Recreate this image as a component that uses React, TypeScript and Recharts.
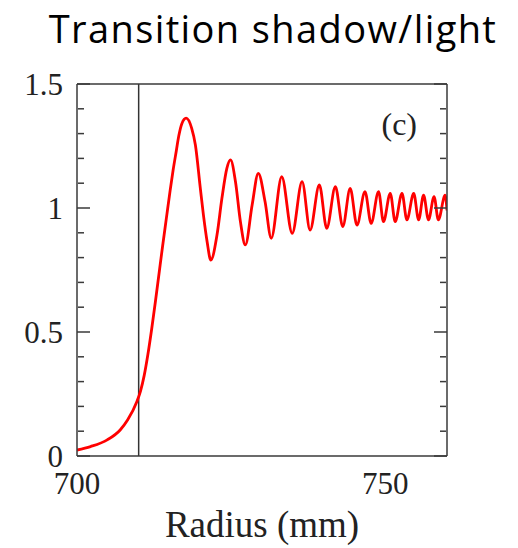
import React from 'react';
import { LineChart, Line, XAxis, YAxis, ReferenceLine } from 'recharts';

const radius = [
  700.0, 702.2, 704.9, 707.0, 708.2, 709.7, 710.3, 710.9, 711.5, 712.1, 712.7, 713.3, 713.9, 714.5, 715.1, 715.6,
  716.1, 716.5, 717.0, 717.7, 718.6, 719.2, 720.0, 720.5, 721.1, 721.7, 722.7, 723.5, 724.3, 724.9, 725.7, 726.5,
  727.3, 728.4, 729.4, 730.5, 731.5, 733.2, 734.9, 736.5, 737.8, 739.3, 740.5, 741.9, 743.1, 744.3, 745.4, 746.7,
  747.7, 748.9, 749.7, 750.8, 751.6, 752.7, 753.5, 754.6, 755.4, 756.2, 757.0, 757.9, 758.6, 759.7, 760.0,
];
const intensity = [
  0.024, 0.038, 0.065, 0.105, 0.145, 0.219, 0.262, 0.325, 0.41, 0.51, 0.62, 0.735, 0.85, 0.96, 1.07, 1.155,
  1.23, 1.29, 1.34, 1.362, 1.321, 1.254, 1.079, 0.972, 0.864, 0.79, 0.891, 1.039, 1.16, 1.194, 1.106, 0.945,
  0.851, 1.012, 1.14, 1.025, 0.878, 1.126, 0.898, 1.106, 0.911, 1.093, 0.918, 1.086, 0.925, 1.079, 0.931, 1.066,
  0.938, 1.066, 0.945, 1.059, 0.945, 1.059, 0.952, 1.059, 0.952, 1.052, 0.952, 1.046, 0.952, 1.052, 0.99,
];
const xMajorTicks = [700, 750];
const xMinorTicks = [710, 720, 730, 740];
const yMajorTicks = [0, 0.5, 1, 1.5];
const yMinorTicks = [0.1, 0.2, 0.3, 0.4, 0.6, 0.7, 0.8, 0.9, 1.1, 1.2, 1.3, 1.4];
const markerRadius = 710;
const title = 'Transition shadow/light';
const xLabel = 'Radius (mm)';
const panelLabel = '(c)';

const data = radius.map((r, i) => ({ r, v: intensity[i] }));

const XD: [number, number] = [700, 760];
const YD: [number, number] = [0, 1.5];
const AX = '#3a3a3a';
const serif = '"Liberation Serif", "Times New Roman", serif';
const lineStyle = { stroke: AX, strokeWidth: 1.5 };
const tickFont = { fontFamily: serif, fontSize: 31, fill: '#222' };
const blank = () => '';
const noText = { fontSize: 1, fill: 'none' };

export default function App() {
  return (
    <div style={{ position: 'relative', width: 510, height: 540 }}>
      <LineChart width={510} height={540} data={data} margin={{ top: 76, right: 71, bottom: 0, left: 0 }}>
        <XAxis
          xAxisId="x"
          dataKey="r"
          type="number"
          domain={XD}
          allowDataOverflow
          ticks={xMajorTicks}
          tickLine={false}
          axisLine={false}
          height={92}
          tickMargin={10}
          tick={tickFont}
          label={{ value: xLabel, position: 'insideBottom', offset: 11, style: { fontFamily: serif, fontSize: 37, fill: '#222' } }}
        />
        <XAxis xAxisId="xbM" type="number" domain={XD} allowDataOverflow orientation="bottom" mirror height={1} ticks={xMajorTicks} tick={noText} tickFormatter={blank} tickSize={13} axisLine={lineStyle} tickLine={lineStyle} />
        <XAxis xAxisId="xbm" type="number" domain={XD} allowDataOverflow orientation="bottom" mirror height={1} ticks={xMinorTicks} tick={noText} tickFormatter={blank} tickSize={7} axisLine={false} tickLine={lineStyle} />
        <XAxis xAxisId="xtM" type="number" domain={XD} allowDataOverflow orientation="top" mirror height={1} ticks={xMajorTicks} tick={noText} tickFormatter={blank} tickSize={13} axisLine={lineStyle} tickLine={lineStyle} />
        <XAxis xAxisId="xtm" type="number" domain={XD} allowDataOverflow orientation="top" mirror height={1} ticks={xMinorTicks} tick={noText} tickFormatter={blank} tickSize={7} axisLine={false} tickLine={lineStyle} />
        <YAxis
          yAxisId="y"
          type="number"
          domain={YD}
          allowDataOverflow
          ticks={yMajorTicks}
          tickLine={false}
          axisLine={false}
          width={69}
          tickMargin={8}
          tick={tickFont}
        />
        <YAxis yAxisId="ylM" type="number" domain={YD} allowDataOverflow orientation="left" mirror width={1} ticks={yMajorTicks} tick={noText} tickFormatter={blank} tickSize={13} axisLine={lineStyle} tickLine={lineStyle} />
        <YAxis yAxisId="ylm" type="number" domain={YD} allowDataOverflow orientation="left" mirror width={1} ticks={yMinorTicks} tick={noText} tickFormatter={blank} tickSize={6} axisLine={false} tickLine={lineStyle} />
        <YAxis yAxisId="yrM" type="number" domain={YD} allowDataOverflow orientation="right" mirror width={1} ticks={yMajorTicks} tick={noText} tickFormatter={blank} tickSize={13} axisLine={lineStyle} tickLine={lineStyle} />
        <YAxis yAxisId="yrm" type="number" domain={YD} allowDataOverflow orientation="right" mirror width={1} ticks={yMinorTicks} tick={noText} tickFormatter={blank} tickSize={6} axisLine={false} tickLine={lineStyle} />
        <ReferenceLine xAxisId="x" yAxisId="y" x={markerRadius} stroke="#333" strokeWidth={1.5} />
        <Line
          xAxisId="x"
          yAxisId="y"
          dataKey="v"
          type="monotone"
          stroke="#ff0000"
          strokeWidth={2.8}
          dot={false}
          activeDot={false}
          isAnimationActive={false}
        />
      </LineChart>
      <svg width={518} height={548} style={{ position: 'absolute', left: -8, top: -8, pointerEvents: 'none' }}>
        <text x={273} y={43} textAnchor="middle" fontFamily='"Open Sans", sans-serif' fontSize={38} letterSpacing={1.4} fill="#000">
          {title}
        </text>
        <text x={417} y={135} textAnchor="end" fontFamily={serif} fontSize={32} fill="#222">
          {panelLabel}
        </text>
      </svg>
    </div>
  );
}
